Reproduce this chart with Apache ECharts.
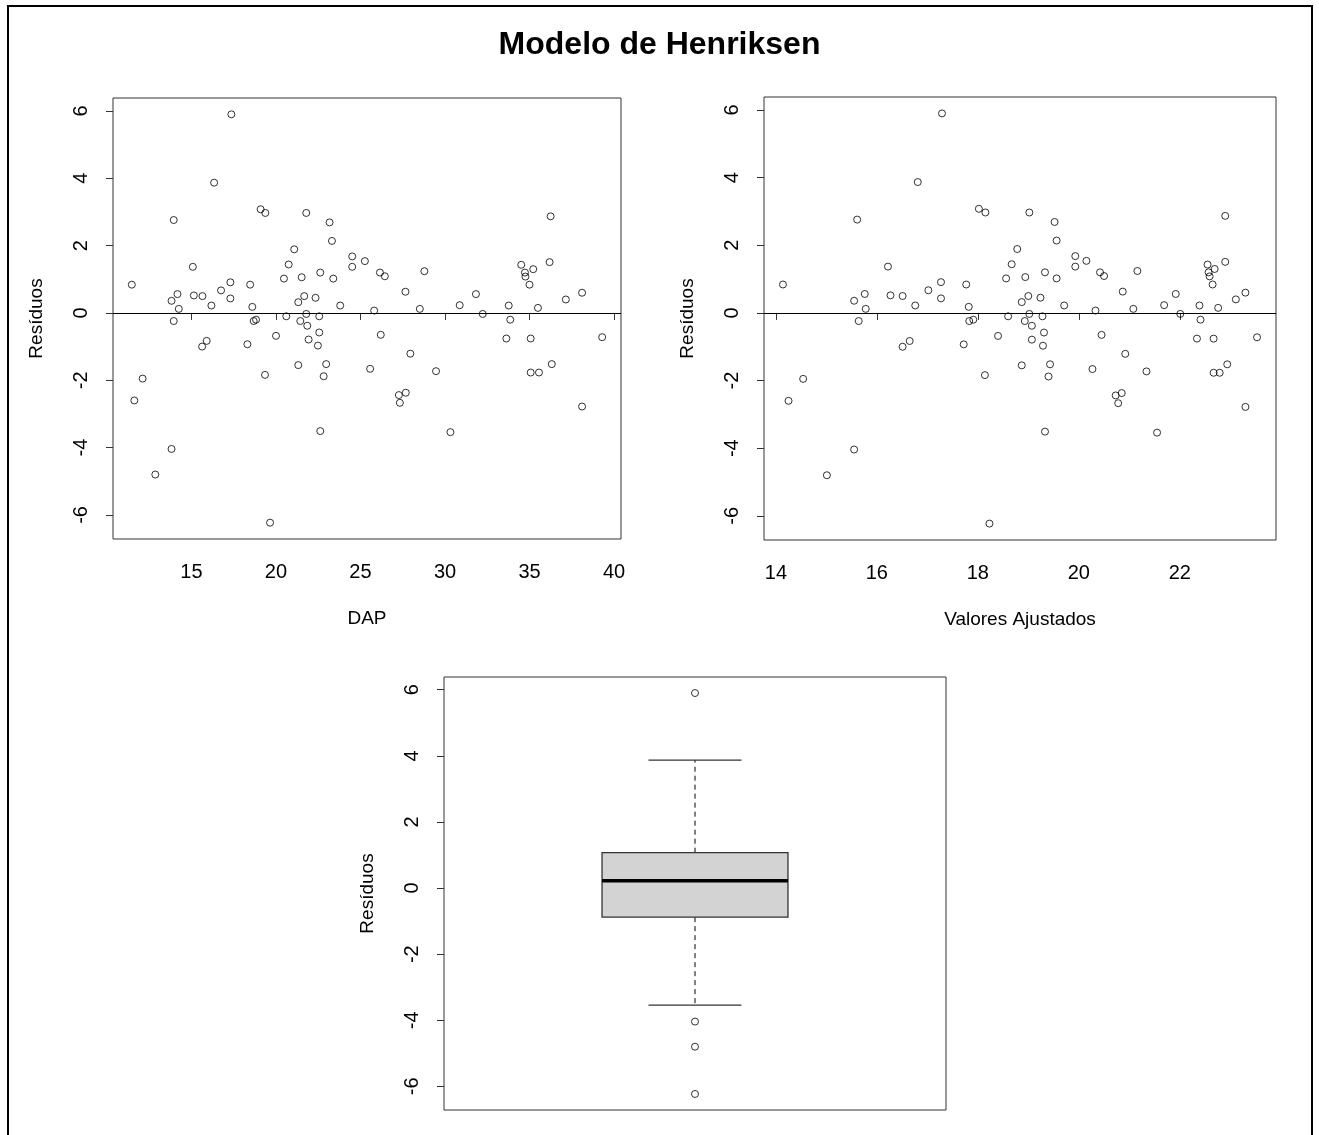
<!DOCTYPE html>
<html>
<head>
<meta charset="utf-8">
<script src="https://cdn.jsdelivr.net/npm/echarts@6/dist/echarts.min.js"></script>
<style>
html,body{margin:0;padding:0;background:#fff;}
#chart{width:1319px;height:1135px;}
</style>
</head>
<body>
<div id="chart"></div>
<script>
// ---- data ----
const dap = [17.36,16.34,13.95,19.09,19.37,21.79,23.17,23.31,21.08,24.51,
  24.51,25.26,20.75,15.08,11.47,20.47,21.52,22.62,23.39,17.30,
  18.47,16.75,14.17,15.14,15.65,13.82,17.30,14.25,16.18,18.60,
  21.67,21.32,22.34,23.80,21.79,13.95,18.68,18.82,20.61,21.44,
  21.85,22.56,22.56,21.93,22.48,20.00,18.31,15.63,15.90,19.35,
  21.32,22.97,22.82,22.62,19.65,12.11,11.62,13.82,12.86,25.57,
  26.15,26.44,28.78,27.66,25.81,28.51,30.87,31.83,32.23,33.77,
  35.50,37.15,38.11,34.51,34.73,34.76,35.22,35.00,36.19,36.25,
  33.86,26.20,27.95,29.47,27.27,27.68,27.33,30.32,33.63,35.07,
  39.30,35.07,35.56,36.32,38.11];
const ajustados = [17.29,16.81,15.61,18.02,18.15,19.02,19.52,19.56,18.78,19.93,
  19.93,20.15,18.67,16.22,14.14,18.56,18.94,19.33,19.56,17.27,
  17.77,17.02,15.76,16.27,16.51,15.55,17.27,15.78,16.76,17.82,
  19.00,18.87,19.24,19.71,19.02,15.64,17.83,17.91,18.60,18.93,
  19.07,19.28,19.31,19.07,19.29,18.40,17.72,16.51,16.65,18.14,
  18.87,19.43,19.40,19.33,18.23,14.54,14.25,15.55,15.01,20.27,
  20.42,20.50,21.16,20.87,20.33,21.08,21.69,21.92,22.01,22.39,
  22.76,23.11,23.30,22.55,22.57,22.59,22.69,22.65,22.90,22.90,
  22.41,20.45,20.92,21.34,20.73,20.85,20.78,21.55,22.34,22.67,
  23.53,22.67,22.79,22.94,23.30];
const residuos = [5.90,3.87,2.76,3.08,2.97,2.97,2.69,2.14,1.89,1.68,
  1.37,1.54,1.44,1.37,0.84,1.02,1.06,1.20,1.02,0.91,
  0.84,0.67,0.56,0.52,0.50,0.36,0.43,0.12,0.22,0.18,
  0.50,0.32,0.45,0.22,-0.03,-0.24,-0.24,-0.20,-0.10,-0.24,
  -0.38,-0.10,-0.58,-0.79,-0.97,-0.68,-0.93,-1.00,-0.83,-1.84,
  -1.55,-1.52,-1.88,-3.51,-6.23,-1.95,-2.60,-4.04,-4.80,-1.66,
  1.20,1.09,1.24,0.63,0.07,0.12,0.23,0.56,-0.03,0.22,
  0.15,0.40,0.60,1.43,1.20,1.08,1.30,0.84,1.51,2.87,
  -0.20,-0.65,-1.21,-1.73,-2.44,-2.37,-2.67,-3.54,-0.76,-0.76,
  -0.72,-1.77,-1.77,-1.52,-2.78];
const dapTicks = [15,20,25,30,35,40];
const ajustTicks = [14,16,18,20,22];
const residTicks = [-6,-4,-2,0,2,4,6];
const titulo = 'Modelo de Henriksen';

// ---- helpers ----
const FONT = "'Liberation Sans',Arial,sans-serif";
function rRange(arr){
  const mn = Math.min.apply(null, arr), mx = Math.max.apply(null, arr);
  const e = (mx - mn) * 0.04;
  return [mn - e, mx + e];
}
function fivenum(arr){
  const x = arr.slice().sort((a,b)=>a-b);
  const n = x.length;
  const n4 = Math.floor((n + 3) / 2) / 2;
  const d = [1, n4, (n + 1) / 2, n + 1 - n4, n];
  return d.map(v => 0.5 * (x[Math.floor(v) - 1] + x[Math.ceil(v) - 1]));
}
const fn = fivenum(residuos);
const iqr = fn[3] - fn[1];
const loFence = fn[1] - 1.5 * iqr, hiFence = fn[3] + 1.5 * iqr;
const inside = residuos.filter(v => v >= loFence && v <= hiFence);
const whiskLo = Math.min.apply(null, inside), whiskHi = Math.max.apply(null, inside);
const outliers = residuos.filter(v => v < loFence || v > hiFence);

const xr0 = rRange(dap), xr1 = rRange(ajustados), yr = rRange(residuos);

const LINE = '#333';
const tickTxt = {color:'#000', fontFamily: FONT, fontSize: 20};
const nameTxt = {color:'#000', fontFamily: FONT, fontSize: 19};

function xAxisDef(gi, range, ticks, name){
  return {
    gridIndex: gi, type:'value', min: range[0], max: range[1],
    axisLine:{show:false}, splitLine:{show:false},
    axisTick:{show:true, length:7, customValues: ticks, lineStyle:{color:LINE, width:1}},
    axisLabel:Object.assign({customValues: ticks, margin: 23}, tickTxt),
    name: name, nameLocation:'middle', nameGap: 70,
    nameTextStyle: Object.assign({}, nameTxt)
  };
}
function yAxisDef(gi){
  return {
    gridIndex: gi, type:'value', min: yr[0], max: yr[1],
    axisLine:{show:false}, splitLine:{show:false},
    axisTick:{show:true, length:7, customValues: residTicks, lineStyle:{color:LINE, width:1}},
    axisLabel:Object.assign({customValues: residTicks, rotate: 90, margin: 22}, tickTxt),
    name: 'Resíduos', nameLocation:'middle', nameGap: 67, nameRotate: 90,
    nameTextStyle: Object.assign({}, nameTxt)
  };
}
const pointStyle = {color:'rgba(0,0,0,0)', borderColor:'#000', borderWidth:1};
const zeroLine = {
  silent:true, symbol:'none', label:{show:false}, animation:false,
  lineStyle:{color:'#000', width:1, type:'solid'},
  data:[{yAxis:0}]
};

const chart = echarts.init(document.getElementById('chart'), null, {renderer:'canvas'});
chart.setOption({
  animation:false,
  backgroundColor:'#fff',
  title:{text: titulo, left:'center', top: 24,
    textStyle:{fontFamily: FONT, fontWeight:'bold', fontSize: 32, color:'#000'}},
  graphic:[{type:'rect', shape:{x:8, y:6, width:1304, height:1140},
    style:{fill:'none', stroke:'#000', lineWidth:2}, silent:true, z:100}],
  grid:[
    {left:113, top:98, width:508, height:441, show:true, borderColor:LINE, borderWidth:1, backgroundColor:'rgba(0,0,0,0)'},
    {left:764, top:97, width:512, height:443, show:true, borderColor:LINE, borderWidth:1, backgroundColor:'rgba(0,0,0,0)'},
    {left:444, top:677, width:502, height:433, show:true, borderColor:LINE, borderWidth:1, backgroundColor:'rgba(0,0,0,0)'}
  ],
  xAxis:[
    xAxisDef(0, xr0, dapTicks, 'DAP'),
    xAxisDef(1, xr1, ajustTicks, 'Valores Ajustados'),
    {gridIndex:2, type:'value', min:0.46, max:1.54, show:false}
  ],
  yAxis:[yAxisDef(0), yAxisDef(1), yAxisDef(2)],
  series:[
    {type:'scatter', xAxisIndex:0, yAxisIndex:0, symbol:'circle', symbolSize:7,
     itemStyle:pointStyle, data: dap.map((v,i)=>[v, residuos[i]]), markLine: zeroLine},
    {type:'scatter', xAxisIndex:1, yAxisIndex:1, symbol:'circle', symbolSize:7,
     itemStyle:pointStyle, data: ajustados.map((v,i)=>[v, residuos[i]]), markLine: zeroLine},
    {type:'custom', xAxisIndex:2, yAxisIndex:2,
     data:[[1, whiskLo, fn[1], fn[2], fn[3], whiskHi]],
     renderItem:function(params, api){
       const c = api.value(0), lo = api.value(1), q1 = api.value(2), md = api.value(3), q3 = api.value(4), hi = api.value(5);
       const P = (x,y) => api.coord([x,y]);
       const pTop = P(c, hi), pQ3 = P(c, q3), pQ1 = P(c, q1), pBot = P(c, lo);
       const bl = P(c-0.2, q1), tr = P(c+0.2, q3);
       const dash = {stroke:'#000', lineWidth:1, lineDash:[5,4]};
       const solid = {stroke:LINE, lineWidth:1.3};
       return {type:'group', children:[
         {type:'line', shape:{x1:pQ3[0], y1:pQ3[1], x2:pTop[0], y2:pTop[1]}, style:dash},
         {type:'line', shape:{x1:pQ1[0], y1:pQ1[1], x2:pBot[0], y2:pBot[1]}, style:dash},
         {type:'line', shape:{x1:P(c-0.1,hi)[0], y1:pTop[1], x2:P(c+0.1,hi)[0], y2:pTop[1]}, style:solid},
         {type:'line', shape:{x1:P(c-0.1,lo)[0], y1:pBot[1], x2:P(c+0.1,lo)[0], y2:pBot[1]}, style:solid},
         {type:'rect', shape:{x:bl[0], y:tr[1], width:tr[0]-bl[0], height:bl[1]-tr[1]},
          style:{fill:'#D3D3D3', stroke:LINE, lineWidth:1.3}},
         {type:'line', shape:{x1:bl[0], y1:P(c,md)[1], x2:tr[0], y2:P(c,md)[1]},
          style:{stroke:'#000', lineWidth:3.5}}
       ]};
     }},
    {type:'scatter', xAxisIndex:2, yAxisIndex:2, symbol:'circle', symbolSize:7,
     itemStyle:pointStyle, data: outliers.map(v=>[1, v])}
  ]
});
</script>
</body>
</html>
